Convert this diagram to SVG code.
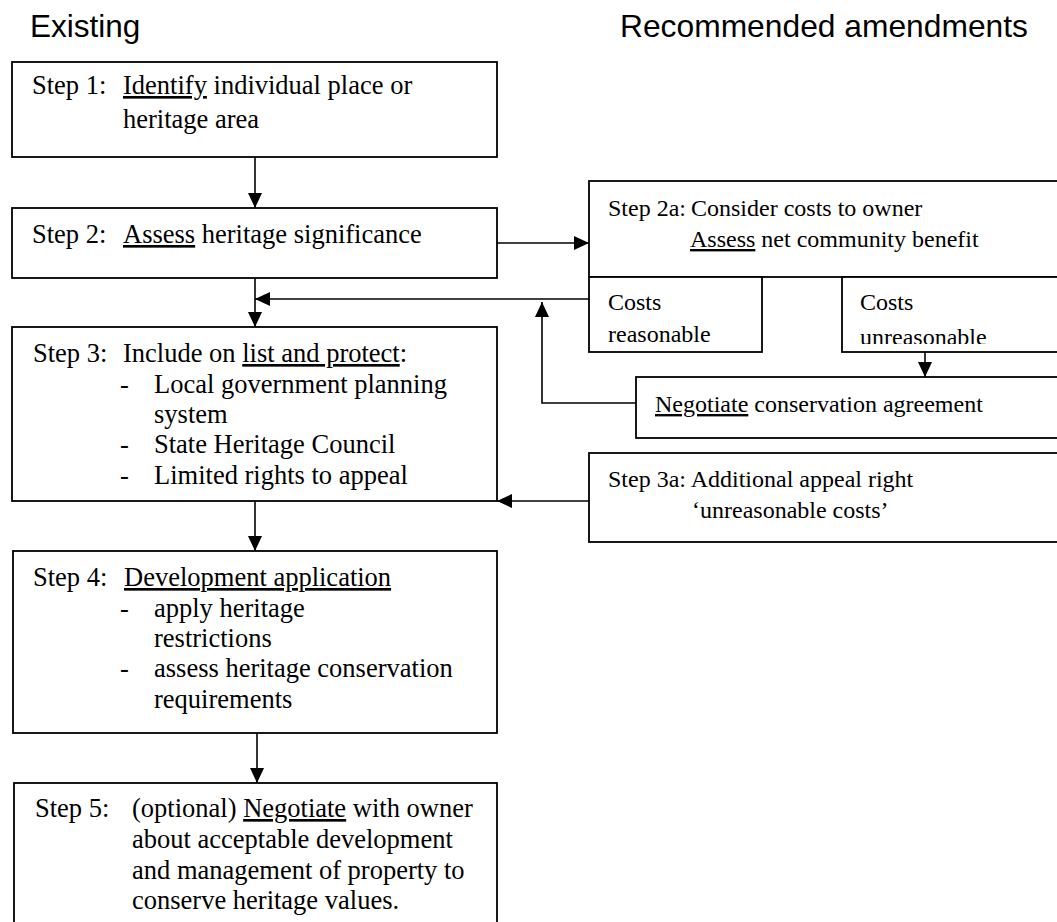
<svg xmlns="http://www.w3.org/2000/svg" width="1057" height="922" viewBox="0 0 1057 922">
<style>
  .box { fill: #fff; stroke: #000; stroke-width: 1.8; }
  .ln { fill: none; stroke: #000; stroke-width: 1.6; }
  .hd { font-family: "Liberation Sans", Arial, sans-serif; font-size: 31.5px; fill: #000; }
  .tl { font-family: "Liberation Serif", "Times New Roman", serif; font-size: 26.5px; fill: #000; }
  .tr { font-family: "Liberation Serif", "Times New Roman", serif; font-size: 24px; fill: #000; }
  .u { text-decoration: underline; }
</style>
<defs>
  <marker id="ah" markerUnits="userSpaceOnUse" markerWidth="15" markerHeight="14" refX="15" refY="7" orient="auto">
    <path d="M0,0 L15,7 L0,14 z" fill="#000"/>
  </marker>
  <clipPath id="clipU"><rect x="843" y="278" width="220" height="66"/></clipPath>
</defs>
<rect x="0" y="0" width="1057" height="922" fill="#fff"/>

<g id="headers">
  <text class="hd" x="30" y="37">Existing</text>
  <text class="hd" x="620" y="37" textLength="408" lengthAdjust="spacingAndGlyphs">Recommended amendments</text>
</g>

<g id="connectors">
  <line class="ln" x1="255" y1="157" x2="255" y2="208" marker-end="url(#ah)"/>
  <line class="ln" x1="255" y1="278" x2="255" y2="327" marker-end="url(#ah)"/>
  <line class="ln" x1="497" y1="243" x2="589" y2="243" marker-end="url(#ah)"/>
  <line class="ln" x1="589" y1="299" x2="255" y2="299" marker-end="url(#ah)"/>
  <line class="ln" x1="925" y1="352" x2="925" y2="377" marker-end="url(#ah)"/>
  <polyline class="ln" points="636,403 542,403 542,302" marker-end="url(#ah)"/>
  <line class="ln" x1="589" y1="501" x2="497" y2="501" marker-end="url(#ah)"/>
  <line class="ln" x1="255" y1="501" x2="255" y2="551" marker-end="url(#ah)"/>
  <line class="ln" x1="257" y1="733" x2="257" y2="783" marker-end="url(#ah)"/>
</g>

<g id="step1">
  <rect class="box" x="12" y="62" width="485" height="95"/>
  <text class="tl" x="32" y="94">Step 1:<tspan x="123" class="u">Identify</tspan><tspan> individual place or</tspan></text>
  <text class="tl" x="123" y="128">heritage area</text>
</g>

<g id="step2">
  <rect class="box" x="12" y="208" width="485" height="70"/>
  <text class="tl" x="32" y="243">Step 2:<tspan x="123" class="u">Assess</tspan><tspan> heritage significance</tspan></text>
</g>

<g id="step3">
  <rect class="box" x="12" y="327" width="485" height="174"/>
  <text class="tl" x="33" y="362">Step 3:<tspan x="123">Include on </tspan><tspan class="u">list and protect</tspan><tspan>:</tspan></text>
  <text class="tl" x="120" y="393">-</text>
  <text class="tl" x="154" y="393">Local government planning</text>
  <text class="tl" x="154" y="423">system</text>
  <text class="tl" x="120" y="453">-</text>
  <text class="tl" x="154" y="453">State Heritage Council</text>
  <text class="tl" x="120" y="484">-</text>
  <text class="tl" x="154" y="484">Limited rights to appeal</text>
</g>

<g id="step4">
  <rect class="box" x="13" y="551" width="484" height="182"/>
  <text class="tl" x="33" y="586">Step 4:<tspan x="124" class="u">Development application</tspan></text>
  <text class="tl" x="120" y="617">-</text>
  <text class="tl" x="154" y="617">apply heritage</text>
  <text class="tl" x="154" y="647">restrictions</text>
  <text class="tl" x="120" y="677">-</text>
  <text class="tl" x="154" y="677">assess heritage conservation</text>
  <text class="tl" x="154" y="708">requirements</text>
</g>

<g id="step5">
  <rect class="box" x="14" y="783" width="483" height="160"/>
  <text class="tl" x="35" y="817">Step 5:<tspan x="132">(optional) </tspan><tspan class="u">Negotiate</tspan><tspan> with owner</tspan></text>
  <text class="tl" x="132" y="848">about acceptable development</text>
  <text class="tl" x="132" y="879">and management of property to</text>
  <text class="tl" x="132" y="909">conserve heritage values.</text>
</g>

<g id="step2a">
  <rect class="box" x="589" y="181" width="480" height="96"/>
  <text class="tr" x="608" y="216">Step 2a:<tspan x="691">Consider costs to owner</tspan></text>
  <text class="tr" x="690" y="247"><tspan class="u">Assess</tspan><tspan> net community benefit</tspan></text>
</g>

<g id="costs-reasonable">
  <rect class="box" x="589" y="277" width="173" height="75"/>
  <text class="tr" x="608" y="310">Costs</text>
  <text class="tr" x="608" y="342">reasonable</text>
</g>

<g id="costs-unreasonable">
  <rect class="box" x="842" y="277" width="230" height="75"/>
  <g clip-path="url(#clipU)">
    <text class="tr" x="860" y="310">Costs</text>
    <text class="tr" x="860" y="345">unreasonable</text>
  </g>
</g>

<g id="negotiate">
  <rect class="box" x="636" y="377" width="430" height="61"/>
  <text class="tr" x="655" y="412"><tspan class="u">Negotiate</tspan><tspan> conservation agreement</tspan></text>
</g>

<g id="step3a">
  <rect class="box" x="589" y="453" width="480" height="89"/>
  <text class="tr" x="608" y="487">Step 3a: Additional appeal right</text>
  <text class="tr" x="692" y="518">‘unreasonable costs’</text>
</g>
</svg>
